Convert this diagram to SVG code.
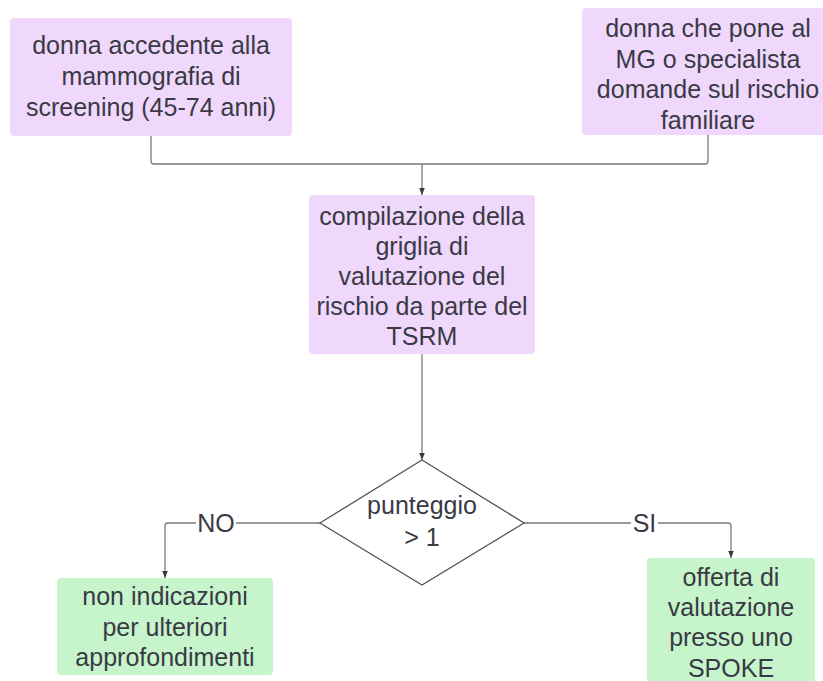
<svg xmlns="http://www.w3.org/2000/svg" width="823" height="681" viewBox="0 0 823 681">
  <defs>
    <marker id="arrow" viewBox="0 0 10 10" refX="10" refY="5" markerWidth="7" markerHeight="7" markerUnits="userSpaceOnUse" orient="auto">
      <path d="M0,1 L10,5 L0,9 Z" fill="#3a3a3a"/>
    </marker>
    <style>
      .purple { fill: #efd8fb; }
      .green { fill: #c6f4cb; }
      .label { font-family: "Liberation Sans", Arial, sans-serif; font-size: 25px; fill: #3a3a45; text-anchor: middle; }
      .edge { fill: none; stroke: #7a7a7a; stroke-width: 1.3; }
      .tag { font-family: "Liberation Sans", Arial, sans-serif; font-size: 25px; fill: #3a3a45; text-anchor: middle; }
      .diamond { fill: #ffffff; stroke: #555555; stroke-width: 1.3; }
    </style>
  </defs>

  <rect width="823" height="681" fill="#ffffff"/>

  <!-- connectors -->
  <g id="connectors">
    <path class="edge" d="M151,136 V161 Q151,164 154,164 H705 Q708,164 708,161 V135"/>
    <path class="edge" d="M422,164 V195" marker-end="url(#arrow)"/>
    <path class="edge" d="M422,354 V460" marker-end="url(#arrow)"/>
    <path class="edge" d="M320,523 H168 Q165,523 165,526 V578" marker-end="url(#arrow)"/>
    <path class="edge" d="M524,523 H728 Q731,523 731,526 V558" marker-end="url(#arrow)"/>
    <rect x="196" y="510" width="40" height="26" fill="#ffffff"/>
    <text class="tag" x="216" y="532">NO</text>
    <rect x="631" y="510" width="27" height="26" fill="#ffffff"/>
    <text class="tag" x="644.5" y="532">SI</text>
  </g>

  <!-- screening entry -->
  <g id="node-screening">
    <rect class="purple" x="10" y="18" width="282" height="118" rx="4"/>
    <text class="label" x="151" y="54">donna accedente alla</text>
    <text class="label" x="151" y="85">mammografia di</text>
    <text class="label" x="151" y="116">screening (45-74 anni)</text>
  </g>

  <!-- family-risk entry -->
  <g id="node-familiare">
    <rect class="purple" x="582" y="8" width="252" height="127" rx="4"/>
    <text class="label" x="708" y="37">donna che pone al</text>
    <text class="label" x="708" y="68">MG o specialista</text>
    <text class="label" x="708" y="98">domande sul rischio</text>
    <text class="label" x="708" y="129">familiare</text>
  </g>

  <!-- risk grid -->
  <g id="node-griglia">
    <rect class="purple" x="309" y="195" width="226" height="159" rx="4"/>
    <text class="label" x="422" y="225">compilazione della</text>
    <text class="label" x="422" y="255">griglia di</text>
    <text class="label" x="422" y="285">valutazione del</text>
    <text class="label" x="422" y="315">rischio da parte del</text>
    <text class="label" x="422" y="345">TSRM</text>
  </g>

  <!-- decision -->
  <g id="node-punteggio">
    <polygon class="diamond" points="422,460 524,523 422,585 320,523"/>
    <text class="label" x="422" y="514">punteggio</text>
    <text class="label" x="422" y="546">&gt; 1</text>
  </g>

  <!-- no outcome -->
  <g id="node-no">
    <rect class="green" x="57" y="578" width="216" height="97" rx="4"/>
    <text class="label" x="165" y="605">non indicazioni</text>
    <text class="label" x="165" y="636">per ulteriori</text>
    <text class="label" x="165" y="666">approfondimenti</text>
  </g>

  <!-- yes outcome -->
  <g id="node-si">
    <rect class="green" x="647" y="558" width="168" height="130" rx="4"/>
    <text class="label" x="731" y="586">offerta di</text>
    <text class="label" x="731" y="616">valutazione</text>
    <text class="label" x="731" y="646">presso uno</text>
    <text class="label" x="731" y="677">SPOKE</text>
  </g>
</svg>
